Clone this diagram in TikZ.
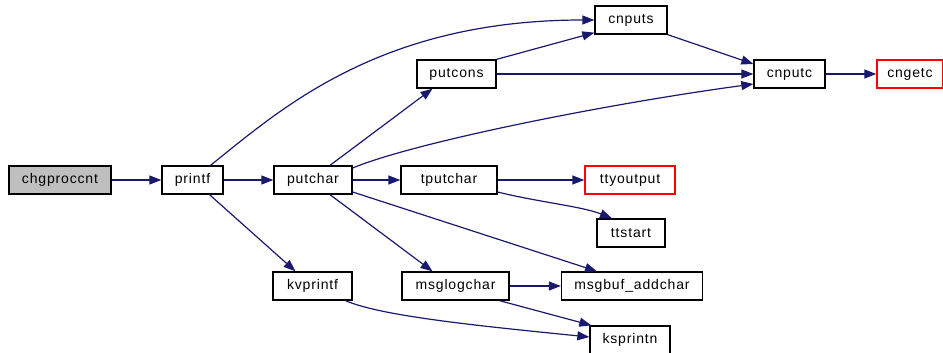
\documentclass[tikz,border=0pt]{standalone}
\usepackage{fontspec}
\newfontfamily\dox{Liberation Sans}[LetterSpace=6]
\usetikzlibrary{arrows.meta}
\definecolor{edgeblue}{HTML}{191970}
\definecolor{rootgray}{HTML}{BFBFBF}
\begin{document}
\begin{tikzpicture}[x=1pt,y=-1pt,
  fn/.style={draw=black, line width=1.3pt, fill=white, minimum height=28pt,
    inner sep=0pt, font=\dox\fontsize{14}{16}\selectfont},
  rootfn/.style={fn, fill=rootgray},
  extfn/.style={fn, draw=red},
  call/.style={draw=edgeblue, line width=1.2pt,
    -{Triangle[length=12pt,width=9pt]}}]
\useasboundingbox (0,0) rectangle (943,353);

% functions
\node[rootfn, minimum width=102pt] (chg)      at (60,180)    {chgproccnt};
\node[fn,     minimum width=61pt]  (printf)   at (192.5,180) {printf};
\node[fn,     minimum width=78pt]  (putchar)  at (313,180)   {putchar};
\node[fn,     minimum width=79pt]  (putcons)  at (456.5,74)  {putcons};
\node[fn,     minimum width=72pt]  (cnputs)   at (631,20)    {cnputs};
\node[fn,     minimum width=71pt]  (cnputc)   at (789.5,74)  {cnputc};
\node[extfn,  minimum width=66pt]  (cngetc)   at (910,74)    {cngetc};
\node[fn,     minimum width=96pt]  (tputchar) at (449,180)   {tputchar};
\node[extfn,  minimum width=90pt]  (ttyout)   at (630,180)   {ttyoutput};
\node[fn,     minimum width=68pt]  (ttstart)  at (631,233)   {ttstart};
\node[fn,     minimum width=79pt]  (kvprintf) at (312.5,286) {kvprintf};
\node[fn,     minimum width=107pt] (msglog)   at (455.5,286) {msglogchar};
\node[fn,     minimum width=141pt] (msgbuf)   at (632,286)   {msgbuf\_addchar};
\node[fn,     minimum width=80pt]  (ksprintn) at (630,340)   {ksprintn};

% calls
\draw[call] (chg) -- (printf);
\draw[call] (printf) -- (putchar);
\draw[call] ([xshift=18pt]printf.north) .. controls +(70,-56) and +(-215,0) .. (cnputs.west);
\draw[call] ([xshift=17pt]printf.south) -- ([xshift=-17pt]kvprintf.north);
\draw[call] ([xshift=17pt]putchar.north) -- ([xshift=-24pt]putcons.south);
\draw[call] ([yshift=12pt]putchar.east) .. controls +(60,-25) and +(-154,21) .. ([yshift=-10pt]cnputc.west);
\draw[call] (putchar) -- (tputchar);
\draw[call] ([xshift=17pt]putchar.south) -- ([xshift=-23pt]msglog.north);
\draw[call] ([yshift=-12pt]putchar.east) -- ([xshift=-35pt]msgbuf.north);
\draw[call] (putcons.north east) -- ([yshift=2pt]cnputs.south west);
\draw[call] (putcons) -- (cnputc);
\draw[call] (cnputs.south east) -- ([yshift=10pt]cnputc.west);
\draw[call] (cnputc) -- (cngetc);
\draw[call] (tputchar) -- (ttyout);
\draw[call] ([yshift=-12pt]tputchar.east) .. controls +(40,10) and +(-30,-12) .. ([xshift=-19pt]ttstart.north);
\draw[call] (msglog) -- (msgbuf);
\draw[call] ([xshift=44pt]msglog.south) -- ([xshift=2pt]ksprintn.north west);
\draw[call] ([xshift=33pt]kvprintf.south) .. controls +(35,15) and +(-120,-12) .. ([yshift=3pt]ksprintn.west);
\end{tikzpicture}
\end{document}
